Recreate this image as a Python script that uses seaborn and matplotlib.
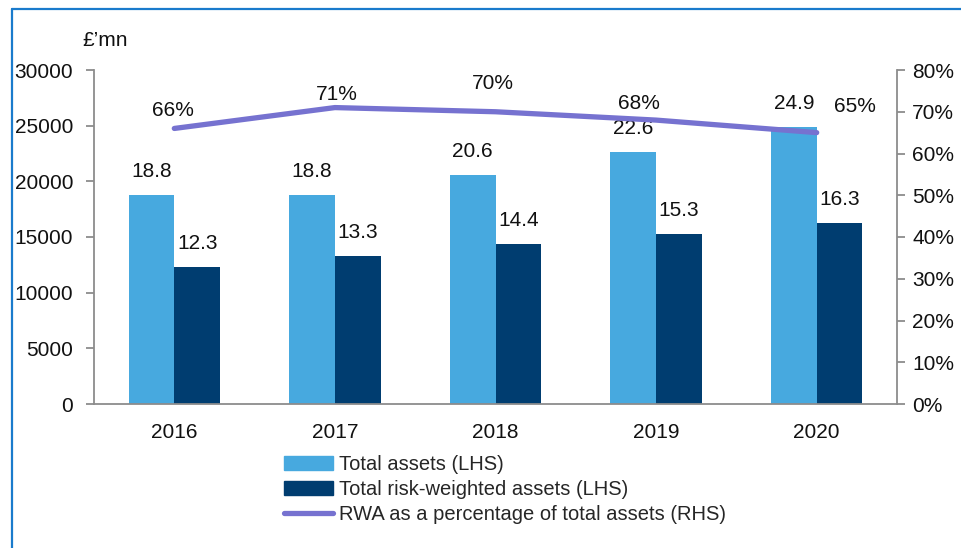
import numpy as np
import pandas as pd
import matplotlib
matplotlib.use("Agg")
import matplotlib.pyplot as plt
import seaborn as sns
from matplotlib.lines import Line2D

# Data
years = ['2016', '2017', '2018', '2019', '2020']
total_assets = [18800, 18800, 20600, 22600, 24900]      # £mn
rwa = [12300, 13300, 14400, 15300, 16300]               # £mn
rwa_pct = [66, 71, 70, 68, 65]                          # %

series_names = ['Total assets (LHS)', 'Total risk-weighted assets (LHS)']
line_name = 'RWA as a percentage of total assets (RHS)'

df = pd.DataFrame({
    'Year': years * 2,
    'Value': total_assets + rwa,
    'Series': [series_names[0]] * 5 + [series_names[1]] * 5,
})

light_blue = '#47a9df'
navy = '#003d70'
purple = '#7672d0'
spine_grey = '#8c8c8c'
txt = '#111111'
fs = 15

sns.set_theme(style='white')
plt.rcParams['font.family'] = ['Liberation Sans', 'DejaVu Sans']
plt.rcParams['font.size'] = fs

fig = plt.figure(figsize=(9.61, 5.48), dpi=100)
ax = fig.add_axes([94 / 961, 1 - 404 / 548, (897 - 94) / 961, (404 - 70) / 548])

sns.barplot(data=df, x='Year', y='Value', hue='Series',
            palette=[light_blue, navy], width=0.57, ax=ax, saturation=1,
            linewidth=0, edgecolor='none')
ax.get_legend().remove()

for cont in ax.containers:
    labels = [f'{b.get_height() / 1000:.1f}' for b in cont]
    ax.bar_label(cont, labels=labels, padding=10, fontsize=fs, color=txt)

ax.set_ylim(0, 30000)
ax.set_yticks(np.arange(0, 30001, 5000))
ax.set_xlim(-0.5, 4.5)
ax.set_xlabel('')
ax.set_ylabel('')
ax.set_xticks(np.arange(5))
ax.set_xticklabels(years)
ax.set_xticks(np.arange(-0.5, 5, 1), minor=True)
ax.tick_params(axis='x', which='major', length=0, pad=14, labelsize=fs, colors=txt)
ax.tick_params(axis='x', which='minor', length=6, width=1.3, color=spine_grey, direction='out')
ax.tick_params(axis='y', length=6, width=1.3, color=spine_grey, direction='out',
               labelsize=fs, labelcolor=txt, pad=9, left=True)

ax2 = ax.twinx()
ax2.plot(np.arange(5), rwa_pct, color=purple, lw=3.8, solid_capstyle='round')
ax2.set_ylim(0, 80)
ax2.set_yticks(np.arange(0, 81, 10))
ax2.set_yticklabels([f'{v}%' for v in range(0, 81, 10)])
ax2.tick_params(axis='y', length=6, width=1.3, color=spine_grey, direction='out',
                labelsize=fs, labelcolor=txt, pad=5, right=True)

# manual label offsets (pixels) as placed in the reference
pct_offsets = [(-1, 18), (2, 13), (-3, 28), (-17, 17), (38, 26)]
for i, (v, off) in enumerate(zip(rwa_pct, pct_offsets)):
    ax2.annotate(f'{v}%', (i, v), xytext=off, textcoords='offset pixels',
                 ha='center', va='center', fontsize=fs, color=txt)

for a in (ax, ax2):
    for s in a.spines.values():
        s.set_visible(False)
ax.spines['left'].set_visible(True)
ax.spines['bottom'].set_visible(True)
ax2.spines['right'].set_visible(True)
for s in (ax.spines['left'], ax.spines['bottom'], ax2.spines['right']):
    s.set_color(spine_grey)
    s.set_linewidth(1.3)

fig.text(82 / 961, 1 - 40 / 548, '£\u2019mn', fontsize=fs, va='center', ha='left', color=txt)

handles = [plt.Rectangle((0, 0), 1, 1, color=light_blue),
           plt.Rectangle((0, 0), 1, 1, color=navy),
           Line2D([0], [0], color=purple, lw=3.8, solid_capstyle='round')]
fig.legend(handles, series_names + [line_name], loc='upper left',
           bbox_to_anchor=(284 / 961, 1 - 455 / 548), frameon=False, fontsize=14.5,
           handlelength=2.45, handletextpad=0.3, labelspacing=0.3, borderpad=0,
           borderaxespad=0)

# blue frame (left and top edges visible in the reference)
border = '#1a7bcc'
fig.add_artist(Line2D([12 / 961, 12 / 961], [0, 1 - 9 / 548], transform=fig.transFigure,
                      color=border, lw=1.6))
fig.add_artist(Line2D([12 / 961, 1], [1 - 9 / 548, 1 - 9 / 548], transform=fig.transFigure,
                      color=border, lw=1.6))

fig.savefig('out.png', dpi=100)
